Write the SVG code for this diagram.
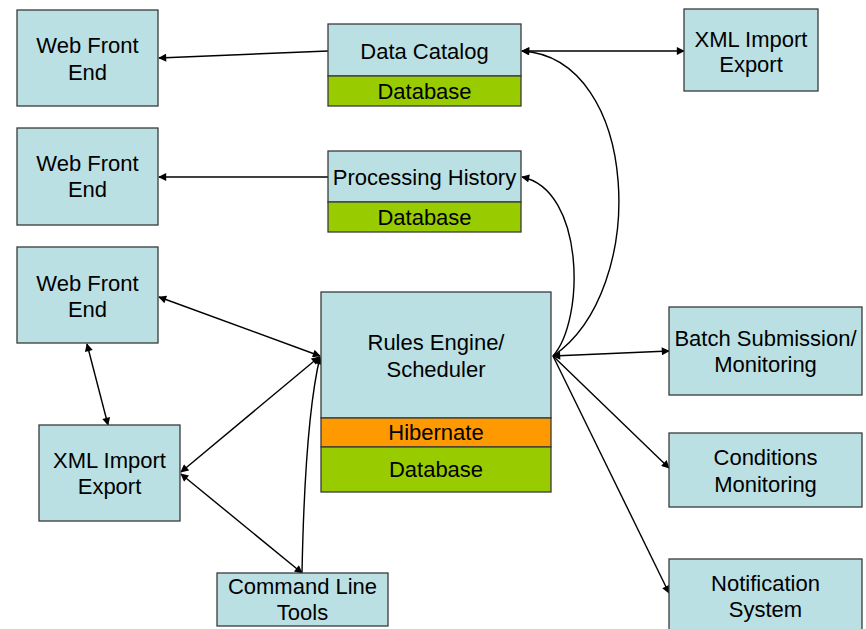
<svg xmlns="http://www.w3.org/2000/svg" width="866" height="629" viewBox="0 0 866 629">
  <defs>
    <style>
      .box { fill: #BBE0E3; stroke: #3a3a3a; stroke-width: 1.3; }
      .db { fill: #99CC00; stroke: #3a3a3a; stroke-width: 1.3; }
      .orm { fill: #FF9900; stroke: #3a3a3a; stroke-width: 1.3; }
      text { font-family: "Liberation Sans", Arial, sans-serif; font-size: 22px; fill: #000; text-anchor: middle; }
      .conn { fill: none; stroke: #000; stroke-width: 1.4; }
    </style>
    <marker id="arrow" viewBox="0 0 10 10" refX="9" refY="5" markerUnits="userSpaceOnUse" markerWidth="9" markerHeight="8" orient="auto-start-reverse">
      <path d="M0,0 L10,5 L0,10 z" fill="#000"/>
    </marker>
  </defs>

  <rect width="866" height="629" fill="#fff"/>

  <!-- connectors -->
  <g id="connectors">
    <line class="conn" x1="328" y1="51" x2="159" y2="58" marker-end="url(#arrow)"/>
    <line class="conn" x1="328" y1="177" x2="159" y2="177" marker-end="url(#arrow)"/>
    <line class="conn" x1="522" y1="51" x2="684" y2="51" marker-start="url(#arrow)" marker-end="url(#arrow)"/>
    <path class="conn" d="M553,356 C650,290 640,58 522,51" marker-end="url(#arrow)"/>
    <path class="conn" d="M553,356 C585,320 585,190 522,177" marker-end="url(#arrow)"/>
    <line class="conn" x1="553" y1="356" x2="669" y2="351" marker-start="url(#arrow)" marker-end="url(#arrow)"/>
    <line class="conn" x1="553" y1="356" x2="669" y2="468" marker-end="url(#arrow)"/>
    <line class="conn" x1="553" y1="356" x2="669" y2="593" marker-end="url(#arrow)"/>
    <line class="conn" x1="159" y1="297" x2="320" y2="356" marker-start="url(#arrow)" marker-end="url(#arrow)"/>
    <line class="conn" x1="87" y1="344" x2="108" y2="425" marker-start="url(#arrow)" marker-end="url(#arrow)"/>
    <line class="conn" x1="181" y1="472" x2="319" y2="357" marker-start="url(#arrow)" marker-end="url(#arrow)"/>
    <line class="conn" x1="181" y1="474" x2="302" y2="573" marker-start="url(#arrow)" marker-end="url(#arrow)"/>
    <path class="conn" d="M302,573 Q305,420 320,357" marker-end="url(#arrow)"/>
  </g>

  <g id="web-front-end-1">
    <rect class="box" x="17" y="10" width="141" height="96"/>
    <text x="87.5" y="53">Web Front</text>
    <text x="87.5" y="80">End</text>
  </g>
  <g id="web-front-end-2">
    <rect class="box" x="17" y="128" width="141" height="97"/>
    <text x="87.5" y="171">Web Front</text>
    <text x="87.5" y="197">End</text>
  </g>
  <g id="web-front-end-3">
    <rect class="box" x="17" y="247" width="141" height="96"/>
    <text x="87.5" y="291">Web Front</text>
    <text x="87.5" y="317">End</text>
  </g>

  <g id="data-catalog">
    <rect class="box" x="328" y="24" width="193" height="52"/>
    <rect class="db" x="328" y="76" width="193" height="30"/>
    <text x="424.5" y="59">Data Catalog</text>
    <text x="424.5" y="99">Database</text>
  </g>
  <g id="processing-history">
    <rect class="box" x="328" y="151" width="193" height="51"/>
    <rect class="db" x="328" y="202" width="193" height="30"/>
    <text x="424.5" y="185">Processing History</text>
    <text x="424.5" y="225">Database</text>
  </g>

  <g id="xml-import-export-top">
    <rect class="box" x="684" y="9" width="134" height="82"/>
    <text x="751" y="47">XML Import</text>
    <text x="751" y="72">Export</text>
  </g>

  <g id="rules-engine">
    <rect class="box" x="321" y="292" width="230" height="126"/>
    <rect class="orm" x="321" y="418" width="230" height="29"/>
    <rect class="db" x="321" y="447" width="230" height="45"/>
    <text x="436" y="350">Rules Engine/</text>
    <text x="436" y="377">Scheduler</text>
    <text x="436" y="440">Hibernate</text>
    <text x="436" y="477">Database</text>
  </g>

  <g id="xml-import-export-left">
    <rect class="box" x="39" y="425" width="141" height="96"/>
    <text x="109.5" y="468">XML Import</text>
    <text x="109.5" y="494">Export</text>
  </g>

  <g id="command-line-tools">
    <rect class="box" x="217" y="573" width="171" height="53"/>
    <text x="302.5" y="594">Command Line</text>
    <text x="302.5" y="620">Tools</text>
  </g>

  <g id="batch-submission">
    <rect class="box" x="669" y="307" width="193" height="88"/>
    <text x="765.5" y="346">Batch Submission/</text>
    <text x="765.5" y="372">Monitoring</text>
  </g>
  <g id="conditions-monitoring">
    <rect class="box" x="669" y="433" width="193" height="74"/>
    <text x="765.5" y="465">Conditions</text>
    <text x="765.5" y="492">Monitoring</text>
  </g>
  <g id="notification-system">
    <rect class="box" x="669" y="559" width="193" height="80"/>
    <text x="765.5" y="591">Notification</text>
    <text x="765.5" y="617">System</text>
  </g>
</svg>
